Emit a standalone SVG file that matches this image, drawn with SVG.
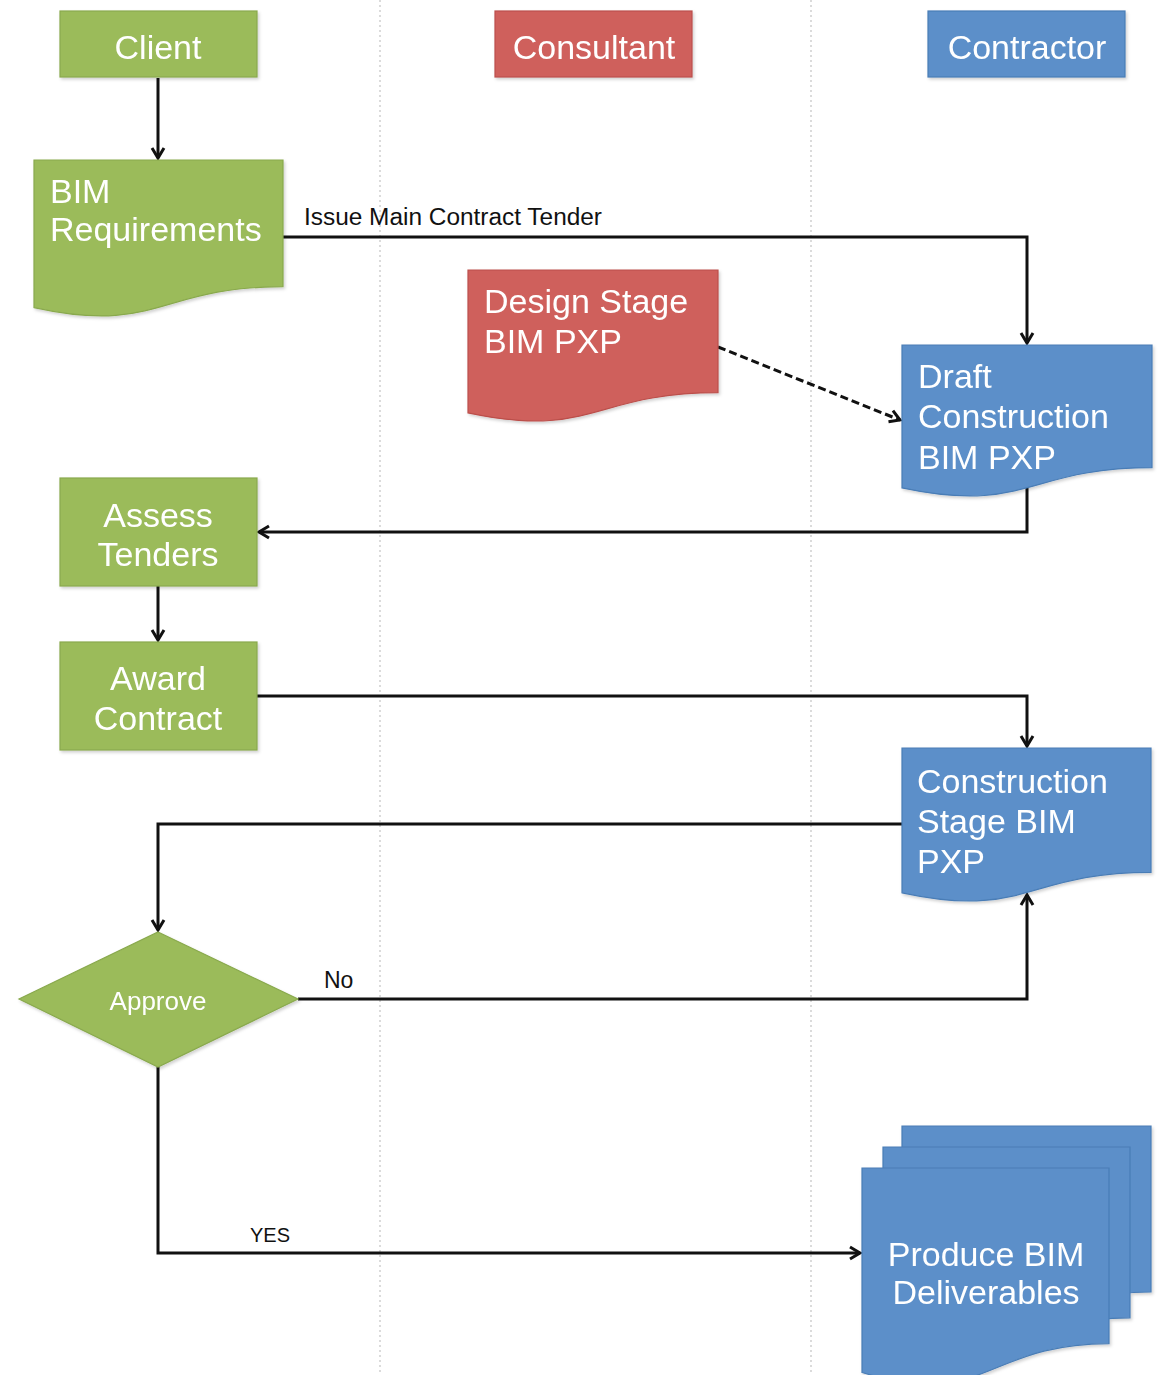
<svg xmlns="http://www.w3.org/2000/svg" width="1158" height="1375" viewBox="0 0 1158 1375">
<defs>
<style>
.lane{stroke:#cfcfcf;stroke-width:1.5;stroke-dasharray:2 3;fill:none}
.g{fill:#9bbb5a;stroke:#89a94d;stroke-width:1.2}
.r{fill:#cf605c;stroke:#bb4f4b;stroke-width:1.2}
.b{fill:#5b8fc9;stroke:#4a7db6;stroke-width:1.2}
.t{font-family:"Liberation Sans",Arial,sans-serif;font-size:34px;fill:#ffffff}
.tc{text-anchor:middle}
.lbl{font-family:"Liberation Sans",Arial,sans-serif;fill:#111111}
.c{fill:none;stroke:#111111;stroke-width:3;marker-end:url(#ah)}
.shape{filter:url(#sh)}
</style>
<marker id="ah" markerUnits="userSpaceOnUse" markerWidth="18" markerHeight="18" refX="13" refY="9" orient="auto">
<path d="M3,3 L13,9 L3,15" fill="none" stroke="#111111" stroke-width="3"/>
</marker>
<filter id="sh" x="-10%" y="-10%" width="130%" height="130%">
<feDropShadow dx="1.5" dy="2" stdDeviation="1.5" flood-color="#000000" flood-opacity="0.18"/>
</filter>
</defs>
<rect width="1158" height="1375" fill="#ffffff"/>
<g id="lanes">
<line class="lane" x1="380" y1="0" x2="380" y2="1375"/>
<line class="lane" x1="811" y1="0" x2="811" y2="1375"/>
</g>
<g id="connectors">
<path class="c" d="M158,78 V158"/>
<path class="c" d="M283,237 H1027 V343"/>
<path class="c" d="M718,347 L900,420" stroke-dasharray="8 4"/>
<path class="c" d="M1027,488 V532 H259"/>
<path class="c" d="M158,586 V640"/>
<path class="c" d="M257,696 H1027 V746"/>
<path class="c" d="M902,824 H158 V930"/>
<path class="c" d="M298,999 H1027 V895"/>
<path class="c" d="M158,1067 V1253 H860"/>
<text class="lbl" x="304" y="225" font-size="23" textLength="298" lengthAdjust="spacingAndGlyphs">Issue Main Contract Tender</text>
<text class="lbl" x="324" y="988" font-size="23">No</text>
<text class="lbl" x="250" y="1242" font-size="20">YES</text>
</g>
<g id="client" class="shape">
<rect class="g" x="60" y="11" width="197" height="66"/>
<text class="t tc" x="158" y="59">Client</text>
</g>
<g id="consultant" class="shape">
<rect class="r" x="495" y="11" width="197" height="66"/>
<text class="t tc" x="594" y="59">Consultant</text>
</g>
<g id="contractor" class="shape">
<rect class="b" x="928" y="11" width="197" height="66"/>
<text class="t tc" x="1027" y="59">Contractor</text>
</g>
<g id="bim-requirements" class="shape">
<path class="g" d="M34,160 H283 V286.7 C158.5,286.7 158.5,334.9 34,307.6 Z"/>
<text class="t" x="50" y="203">BIM</text>
<text class="t" x="50" y="241">Requirements</text>
</g>
<g id="design-stage" class="shape">
<path class="r" d="M468,270 H718 V392.7 C593,392.7 593,439.4 468,412.9 Z"/>
<text class="t" x="484" y="313">Design Stage</text>
<text class="t" x="484" y="353">BIM PXP</text>
</g>
<g id="draft-construction" class="shape">
<path class="b" d="M902,345 H1152 V467.7 C1027,467.7 1027,514.4 902,487.9 Z"/>
<text class="t" x="918" y="388">Draft</text>
<text class="t" x="918" y="428">Construction</text>
<text class="t" x="918" y="469">BIM PXP</text>
</g>
<g id="assess-tenders" class="shape">
<rect class="g" x="60" y="478" width="197" height="108"/>
<text class="t tc" x="158" y="527">Assess</text>
<text class="t tc" x="158" y="566">Tenders</text>
</g>
<g id="award-contract" class="shape">
<rect class="g" x="60" y="642" width="197" height="108"/>
<text class="t tc" x="158" y="690">Award</text>
<text class="t tc" x="158" y="730">Contract</text>
</g>
<g id="construction-stage" class="shape">
<path class="b" d="M902,748 H1151 V872.3 C1026.5,872.3 1026.5,919.6 902,892.8 Z"/>
<text class="t" x="917" y="793">Construction</text>
<text class="t" x="917" y="833">Stage BIM</text>
<text class="t" x="917" y="873">PXP</text>
</g>
<g id="approve" class="shape">
<path class="g" d="M158,932 L298,999 L158,1067 L19,999 Z"/>
<text class="t tc" x="158" y="1010" style="font-size:26px">Approve</text>
</g>
<g id="produce-bim-deliverables" class="shape">
<path class="b" d="M902,1126 H1151 V1292 C1026.5,1292 1026.5,1355 902,1319.3 Z"/>
<path class="b" d="M883,1147 H1130 V1317.8 C1006.5,1317.8 1006.5,1382.8 883,1346 Z"/>
<path class="b" d="M862,1168 H1109 V1343.6 C985.5,1343.6 985.5,1410.4 862,1372.5 Z"/>
<text class="t tc" x="986" y="1266">Produce BIM</text>
<text class="t tc" x="986" y="1304">Deliverables</text>
</g>
</svg>
